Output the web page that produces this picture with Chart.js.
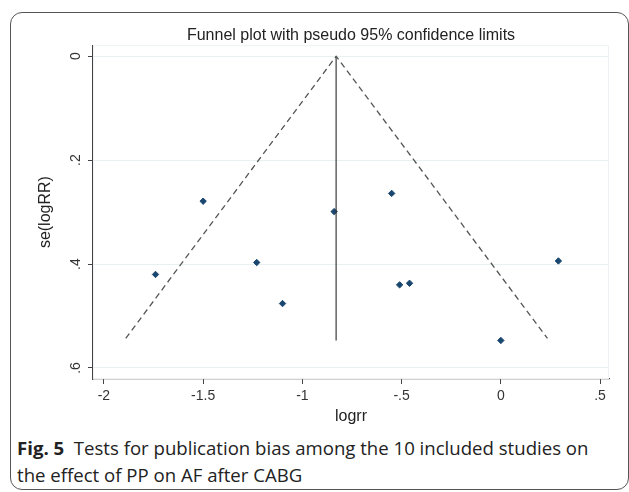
<!DOCTYPE html>
<html>
<head>
<meta charset="utf-8">
<script src="https://cdn.jsdelivr.net/npm/chart.js@4.4.1/dist/chart.umd.min.js"></script>
<style>
  body { margin: 0; background: #fff; width: 629px; height: 492px; overflow: hidden; position: relative; }
  #frame {
    position: absolute; left: 10px; top: 12px; width: 619px; height: 478px;
    box-sizing: border-box; border: 1px solid #555; border-radius: 12px;
  }
  #plot { position: absolute; left: 0; top: 0; }
  #caption {
    position: absolute; left: 17px; top: 434px; width: 605px; white-space: nowrap;
    font-family: "Open Sans", sans-serif; font-size: 18.6px; line-height: 27px; color: #222;
  }
  #caption b { font-weight: 700; }
</style>
</head>
<body>
<div id="frame"></div>
<canvas id="plot" width="629" height="430"></canvas>
<div id="caption"><b>Fig. 5</b>&nbsp; Tests for publication bias among the 10 included studies on<br>the effect of PP on AF after CABG</div>

<script>
// ----- DATA -----

const logrr = [-1.74, -1.50, -1.23, -1.10, -0.84, -0.55, -0.51, -0.46, 0.00, 0.29];
const seLogRR = [0.420, 0.279, 0.397, 0.476, 0.299, 0.264, 0.440, 0.437, 0.547, 0.394];

// pseudo 95% limits (left end, apex, right end) and pooled estimate line
const funnelX = [-1.89, -0.83, 0.235];
const funnelY = [0.543, 0, 0.543];
const pooledX = [-0.83, -0.83];
const pooledY = [0, 0.547];

const xTicks = [-2, -1.5, -1, -0.5, 0, 0.5];
const xTickLabels = ["-2", "-1.5", "-1", "-.5", "0", ".5"];
const yTicks = [0, 0.2, 0.4, 0.6];
const yTickLabels = ["0", ".2", ".4", ".6"];

// ----- CHART -----

const toPoints = (xs, ys) => xs.map((x, i) => ({ x: x, y: ys[i] }));

// faint frame round the plot region
const plotRegion = {
  id: "plotRegion",
  beforeDatasetsDraw(chart) {
    const a = chart.chartArea;
    const ctx = chart.ctx;
    ctx.save();
    ctx.strokeStyle = "#eef2f4";
    ctx.lineWidth = 1;
    ctx.strokeRect(a.left + 0.5, a.top + 0.5, a.width - 1, a.height - 1);
    ctx.restore();
  },
};

const ctx = document.getElementById("plot").getContext("2d");

new Chart(ctx, {
  type: "scatter",
  data: {
    datasets: [
      {
        type: "line",
        data: toPoints(funnelX, funnelY),
        borderColor: "#555",
        borderWidth: 1.3,
        borderDash: [6, 4],
        pointRadius: 0,
        fill: false,
        tension: 0,
      },
      {
        type: "line",
        data: toPoints(pooledX, pooledY),
        borderColor: "#3a3a3a",
        borderWidth: 1.2,
        pointRadius: 0,
        fill: false,
      },
      {
        data: toPoints(logrr, seLogRR),
        pointStyle: "rectRot",
        pointRadius: 3.2,
        backgroundColor: "#1a476f",
        borderColor: "#1a476f",
        borderWidth: 1,
      },
    ],
  },
  options: {
    responsive: false,
    animation: false,
    layout: { padding: { left: 26, right: 20, top: 0, bottom: 0 } },
    plugins: {
      legend: { display: false },
      tooltip: { enabled: false },
      title: {
        display: true,
        fullSize: false,
        text: "Funnel plot with pseudo 95% confidence limits",
        color: "#222",
        font: { family: "Liberation Sans, Arial, sans-serif", size: 16, weight: "normal", lineHeight: 1.2 },
        padding: { top: 26, bottom: 0 },
      },
    },
    scales: {
      x: {
        type: "linear",
        min: -2.055,
        max: 0.545,
        afterBuildTicks: (scale) => { scale.ticks = xTicks.map((v) => ({ value: v })); },
        afterFit: (scale) => { scale.height = 51; },
        ticks: {
          autoSkip: false,
          maxRotation: 0,
          padding: 4,
          color: "#333",
          font: { family: "Liberation Sans, Arial, sans-serif", size: 14 },
          callback: (value) => xTickLabels[xTicks.indexOf(value)],
        },
        grid: { drawOnChartArea: false, tickLength: 5, tickColor: "#444" },
        border: { color: "#444", width: 1.2 },
        title: {
          display: true,
          text: "logrr",
          color: "#222",
          font: { family: "Liberation Sans, Arial, sans-serif", size: 16, lineHeight: 1.2 },
          padding: { top: 0, bottom: 4 },
        },
      },
      y: {
        type: "linear",
        reverse: true,
        min: -0.0212,
        max: 0.6212,
        afterBuildTicks: (scale) => { scale.ticks = yTicks.map((v) => ({ value: v })); },
        afterFit: (scale) => { scale.width = 67; },
        ticks: {
          autoSkip: false,
          minRotation: 90,
          maxRotation: 90,
          crossAlign: "center",
          padding: 6,
          color: "#333",
          font: { family: "Liberation Sans, Arial, sans-serif", size: 14 },
          callback: (value) => yTickLabels[yTicks.indexOf(value)],
        },
        grid: { color: "#e9f0f2", lineWidth: 1, tickLength: 5, tickColor: "#444" },
        border: { color: "#444", width: 1.2 },
        title: {
          display: true,
          text: "se(logRR)",
          color: "#222",
          font: { family: "Liberation Sans, Arial, sans-serif", size: 16, lineHeight: 1.2 },
          padding: { top: 10, bottom: 0 },
        },
      },
    },
  },
  plugins: [plotRegion],
});
</script>
</body>
</html>
